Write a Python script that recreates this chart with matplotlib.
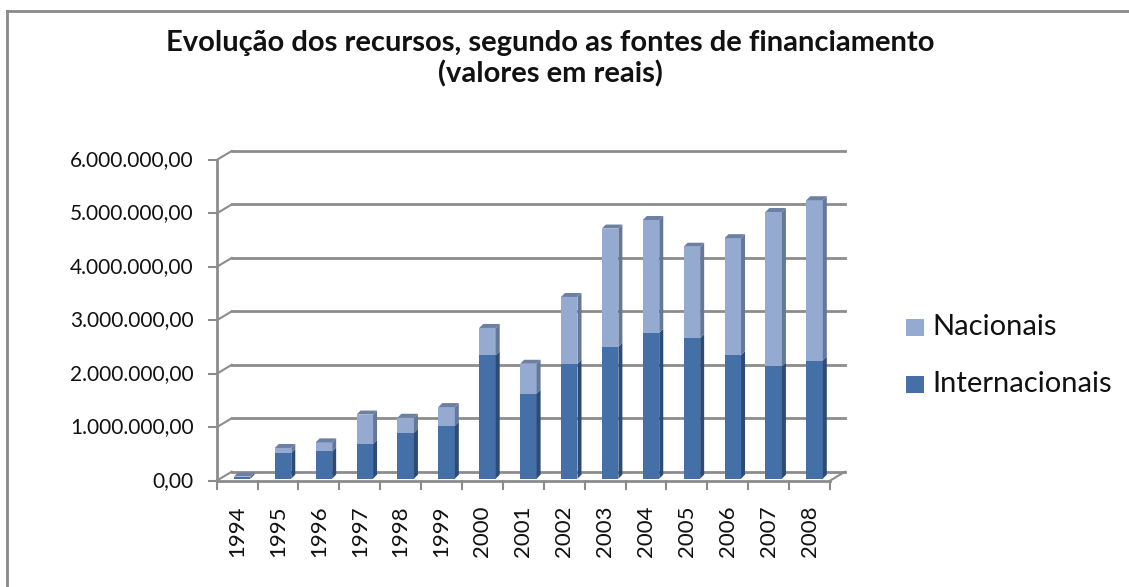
import numpy as np
import matplotlib.pyplot as plt
from matplotlib.patches import Polygon

# data (values in reais)
anos = ["1994", "1995", "1996", "1997", "1998", "1999", "2000", "2001",
        "2002", "2003", "2004", "2005", "2006", "2007", "2008"]
internacionais = [30000, 480000, 510000, 650000, 860000, 990000, 2310000, 1590000,
                  2150000, 2470000, 2730000, 2630000, 2310000, 2100000, 2210000]
nacionais = [10000, 95000, 170000, 550000, 280000, 350000, 510000, 560000,
             1250000, 2210000, 2110000, 1710000, 2190000, 2890000, 3000000]
y_ticks = [0, 1e6, 2e6, 3e6, 4e6, 5e6, 6e6]
y_labels = ["0,00", "1.000.000,00", "2.000.000,00", "3.000.000,00",
            "4.000.000,00", "5.000.000,00", "6.000.000,00"]

plt.rcParams['font.family'] = ['Lato', 'DejaVu Sans']

W, H = 1129, 587
fig = plt.figure(figsize=(W / 100, H / 100), dpi=100)
fig.patch.set_facecolor("white")

# axes placed so the front axis sits where the reference has it
x0px, x1px, y0px, y1px = 216.7, 830.0, 480.7, 160.0
ax = fig.add_axes([x0px / W, 1 - y0px / H, (x1px - x0px) / W, (y0px - y1px) / H])
ax.set_xlim(-0.5, 14.5)
ax.set_ylim(0, 6e6)
ax.axis("off")

pxx = 15 / (x1px - x0px)   # data units per pixel, x
pxy = 6e6 / (y0px - y1px)  # data units per pixel, y

grid_c = "#8c8c8c"
dx, dy = 15 * pxx, 9 * pxy  # depth of the floor / walls

# back wall gridlines and side wall diagonals
for v, lab in zip(y_ticks, y_labels):
    ax.plot([-0.5 + dx, 14.5 + dx], [v + dy, v + dy], color=grid_c, lw=2, clip_on=False, zorder=1)
    ax.plot([-0.5, -0.5 + dx], [v, v + dy], color=grid_c, lw=1.5, clip_on=False, zorder=1)
    ax.plot([-0.5 - 8 * pxx, -0.5], [v, v], color=grid_c, lw=1.5, clip_on=False, zorder=1)
    ax.text(-0.5 - 23 * pxx, v, lab, ha="right", va="center",
            fontsize=15, color="#111111")

# left axis, floor front edge, right floor edge
ax.plot([-0.5, -0.5], [0, 6e6], color=grid_c, lw=2, clip_on=False, zorder=1)
ax.plot([-0.5, 14.5], [0, 0], color=grid_c, lw=2, clip_on=False, zorder=1)
ax.plot([14.5, 14.5 + dx], [0, dy], color=grid_c, lw=1.5, clip_on=False, zorder=1)
for i in range(16):
    ax.plot([i - 0.5, i - 0.5], [0, -8 * pxy], color=grid_c, lw=1.5, clip_on=False, zorder=1)

x = np.arange(len(anos))
bw = 16.5 * pxx
shift = 5 * pxx
base = 2 * pxy
bdx, bdy = 4 * pxx, 4 * pxy

dark_f, dark_s = "#4570a7", "#2d4b74"
light_f, light_s = "#95aad1", "#65789a"
top_c = "#6d80a2"

ax.bar(x + shift, internacionais, width=bw, bottom=base, color=dark_f, zorder=3,
       label="Internacionais")
ax.bar(x + shift, nacionais, width=bw, bottom=base + np.array(internacionais), color=light_f,
       zorder=3, label="Nacionais")

for i in range(len(anos)):
    xr = x[i] + shift + bw / 2
    xl = x[i] + shift - bw / 2
    b1 = base + internacionais[i]
    b2 = b1 + nacionais[i]
    ax.add_patch(Polygon([(xr, base), (xr + bdx, base + bdy), (xr + bdx, b1 + bdy), (xr, b1)],
                         closed=True, facecolor=dark_s, edgecolor="none", zorder=3))
    ax.add_patch(Polygon([(xr, b1), (xr + bdx, b1 + bdy), (xr + bdx, b2 + bdy), (xr, b2)],
                         closed=True, facecolor=light_s, edgecolor="none", zorder=3))
    ax.add_patch(Polygon([(xl, b2), (xl + bdx, b2 + bdy), (xr + bdx, b2 + bdy), (xr, b2)],
                         closed=True, facecolor=top_c, edgecolor="none", zorder=3))
    ax.text(x[i], -25 * pxy, anos[i], rotation=90, ha="center", va="top",
            fontsize=16, color="#111111")

# title
fig.text(550 / W, 1 - 43 / H, "Evolução dos recursos, segundo as fontes de financiamento",
         ha="center", va="center", fontsize=21, fontweight="bold", color="#111111")
fig.text(550 / W, 1 - 74 / H, "(valores em reais)",
         ha="center", va="center", fontsize=21, fontweight="bold", color="#111111")

# legend
for yy, txt, c in [(327, "Nacionais", light_f), (384, "Internacionais", dark_f)]:
    fig.patches.append(plt.Rectangle((906 / W, 1 - (yy + 8.5) / H), 18 / W, 17 / H,
                                     transform=fig.transFigure, facecolor=c, edgecolor="none"))
    fig.text(932 / W, 1 - yy / H, txt, ha="left", va="center", fontsize=21, color="#111111")

# chart frame (only top and left visible in the reference)
fig.add_artist(plt.Line2D([7 / W, 7 / W], [0, 1 - 11 / H], color="#8a8a8a", lw=2))
fig.add_artist(plt.Line2D([7 / W, 1], [1 - 11 / H, 1 - 11 / H], color="#8a8a8a", lw=2))

plt.savefig("out.png", dpi=100, facecolor="white")
